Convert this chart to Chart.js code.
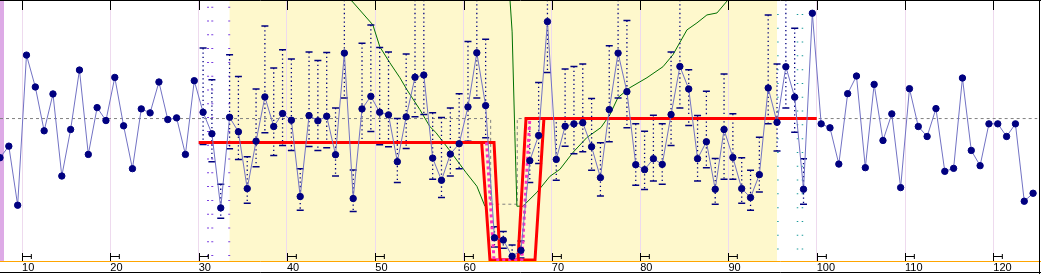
<!DOCTYPE html>
<html>
<head>
<meta charset="utf-8">
<title>Daily series</title>
<script src="https://cdn.jsdelivr.net/npm/chart.js@4.4.1/dist/chart.umd.min.js"></script>
<style>
    html, body { margin: 0; padding: 0; background: #fff; }
    #wrap { width: 1041px; height: 274px; position: relative; }
</style>
</head>
<body>
<div id="wrap"><canvas id="chart"></canvas></div>
<script>
// Daily values, first day = 7
const firstDay = 7;
const dailyValues = [
    103.7, 115.3, 56, 206.7, 174.7, 130.7, 167.7, 85.3, 132, 191.7,
    107, 154, 141, 184.3, 135.7, 92.7, 152.7, 148.7, 179.7, 142,
    143.7, 107, 181, 149.3, 127.7, 53.3, 144.3, 129.7, 72.7, 120.3,
    164.7, 135, 148, 141.3, 64.7, 146, 140.7, 145.3, 106.7, 208.7,
    62.7, 152.7, 165.3, 149.3, 146.7, 99.7, 144.7, 184.5, 186.7, 103.3,
    81, 107.3, 117.7, 154.7, 209, 156, 23.3, 21, 4.7, 10.7,
    100.7, 126, 240.3, 102, 135.3, 137.7, 138.8, 114.7, 83.7, 152,
    208.7, 170, 96.7, 91.7, 102.7, 97, 147, 195.3, 172.7, 102.7,
    119.7, 72, 132, 104, 72.7, 63.7, 86.7, 173.7, 139.2, 195,
    164.5, 72, 248.7, 137.7, 133.7, 97.3, 168, 185.7, 93.7, 177.3,
    121, 147.7, 73.7, 173, 135, 125, 153, 90, 93, 183.7,
    111, 95.7, 137.7, 137.7, 125, 137.7, 60, 68
];

// Range bars (days 30..98): upper and lower marks
const rangeFirstDay = 30;
const rangeHigh = [
    213.7, 182, 77, 207, 185.3, 104.7, 172.7, 236, 193.7, 212,
    202.7, 92.7, 209.7, 201.3, 209.3, 153.7, 275, 91.3, 218.7, 237,
    214.3, 209.7, 143, 207.7, 275, 275, 148.7, 144, 153.7, 168,
    220.3, 275, 222.7, 34.3, 29.7, 16, 20, 143.7, 179.3, 275,
    143.7, 192.7, 195.3, 197.7, 163, 118.7, 216, 275, 241.3, 137.7,
    130.3, 146.3, 137.7, 209.7, 275, 192, 146, 170.3, 103, 187.7,
    147.7, 103.7, 91, 124.3, 247, 197.7, 275, 233.7, 102.7
];
const rangeLow = [
    117, 99.7, 43, 112.7, 102, 58, 94.7, 128.7, 106, 116,
    111, 51, 115, 111, 113.7, 85.3, 163.7, 49.7, 119.3, 130,
    116.7, 114.7, 78.7, 113, 144.7, 147, 82, 63.7, 85.3, 92.7,
    120.3, 163.7, 123.7, 14, 12.7, 0, 3, 78.7, 98, 189.3,
    81, 115.3, 107.7, 109.7, 91, 65.3, 119.7, 163.7, 133.7, 76,
    71.7, 80.3, 77, 116, 153.7, 136, 80.3, 93.7, 57, 82,
    82, 58, 51, 69.3, 137.7, 110.3, 153.7, 129.3, 57
];

// Level lines
const levelX = [30, 62.05, 62.99, 66.16, 67.07, 100];
const levelY = [119, 119, 1, 1, 143, 143];
const levelOuterX = [62, 63.45, 64.13, 68.09, 69.1, 70];
const levelOuterY = [119, 119, 1, 1, 143, 143];
const levelPinkX = [62.6, 63.45, 66.6, 67.5];
const levelPinkY = [119, 1, 1, 143];
const meanX = [7.5, 63.07, 63.07, 66.08, 66.08, 125];
const meanY = [143, 143, 57, 57, 143, 143];

// Green curve (null = break)
const greenX = [46.5, 47.35, 49.73, 50.52, 51.65, 52.79, 53.58, 55.05, 56.18, 56.86, 58.34, 60.26, 61.51, 62.42,
    64, 65.2, 65.5, 65.8, 66.04, 66.72, 68.31, 69.78, 70.91, 72.39, 73.97, 75.56, 76.58, 77.48, 78.84,
    80.77, 82.58, 83.71, 85.30, 86.43, 87.56, 88.70, 89.94];
const greenY = [268, 261, 237, 215, 199, 184, 172, 152, 135, 129, 112, 89, 75, 55,
    null, 270, 230, 130, 55, 55, 69, 85, 92, 109, 124, 134, 147, 164, 174,
    184, 195, 207, 232, 239, 247, 249, 262];

// Phase marker columns and shaded period
const purpleCols = [31.06, 31.54, 33.46];
const tealCols = [95.6, 97.82, 98.38];
const bandStart = 33.5;
const bandEnd = 95.5;

const tickValues = [10, 20, 30, 40, 50, 60, 70, 80, 90, 100, 110, 120];

const colors = {
    band: '#FEF8CC',
    grid: '#EEDAEE',
    line: '#7272C4',
    dot: '#000080',
    red: '#FF0000',
    pink: '#FF30C0',
    green: '#007000',
    mean: '#808080',
    purple: '#7A3FE0',
    teal: '#1A9A9A',
    orange: '#FFA500'
};

const pairs = (xs, ys) => xs.map((x, i) => ({ x: x, y: ys[i] }));

const dailyPoints = dailyValues.map((v, i) => ({ x: firstDay + i + 0.5, y: v }));
const rangeLines = [];
const rangeCaps = [];
rangeHigh.forEach((hi, i) => {
    const x = rangeFirstDay + i + 0.5;
    rangeLines.push({ x: x, y: hi }, { x: x, y: rangeLow[i] }, { x: x, y: null });
    rangeCaps.push({ x: x, y: hi }, { x: x, y: rangeLow[i] });
});

function columnSet(xs, top, color, width) {
    return xs.map(c => ({
        data: [{ x: c, y: top }, { x: c, y: 0 }],
        borderColor: color,
        borderWidth: width,
        borderDash: [1, 12.8],
        pointRadius: 0,
        order: 9
    }));
}

// Background band, frame, tick marks and brackets
const decor = {
    id: 'decor',
    beforeDraw(chart) {
        const { ctx, chartArea: a, scales: { x } } = chart;
        ctx.save();
        const x0 = x.getPixelForValue(bandStart);
        const x1 = x.getPixelForValue(bandEnd);
        ctx.fillStyle = colors.band;
        ctx.fillRect(x0, a.top, x1 - x0, a.bottom - a.top);
        // left strip
        ctx.fillStyle = '#DDAAE6';
        ctx.fillRect(0, 0, 4, a.bottom);
        ctx.restore();
    },
    afterDraw(chart) {
        const { ctx, chartArea: a, scales: { x }, width, height } = chart;
        ctx.save();
        // orange baseline
        ctx.strokeStyle = colors.orange;
        ctx.lineWidth = 1;
        ctx.beginPath();
        ctx.moveTo(0, a.bottom + 0.5);
        ctx.lineTo(width, a.bottom + 0.5);
        ctx.stroke();
        // tick marks at top and brackets at bottom
        ctx.strokeStyle = '#000';
        const step = x.getPixelForValue(11) - x.getPixelForValue(10);
        tickValues.forEach(v => {
            const px = Math.round(x.getPixelForValue(v)) + 0.5;
            ctx.beginPath();
            ctx.moveTo(px, 0);
            ctx.lineTo(px, 10);
            ctx.moveTo(px, a.bottom - 8);
            ctx.lineTo(px, a.bottom);
            ctx.moveTo(px, a.bottom - 4.5);
            ctx.lineTo(px + step, a.bottom - 4.5);
            ctx.moveTo(px + step, a.bottom - 7);
            ctx.lineTo(px + step, a.bottom - 2);
            ctx.stroke();
        });
        // frame
        ctx.beginPath();
        ctx.moveTo(0, 0.5);
        ctx.lineTo(width, 0.5);
        ctx.moveTo(width - 1.5, 0);
        ctx.lineTo(width - 1.5, height);
        ctx.moveTo(0, height - 1.5);
        ctx.lineTo(width, height - 1.5);
        ctx.stroke();
        ctx.restore();
    }
};

const chart = new Chart(document.getElementById('chart'), {
    type: 'line',
    data: {
        datasets: [
            {
                data: dailyPoints,
                borderColor: colors.line,
                borderWidth: 1,
                pointRadius: 3.2,
                pointBackgroundColor: colors.dot,
                pointBorderColor: colors.dot,
                pointBorderWidth: 1,
                order: 0
            },
            {
                data: pairs(levelPinkX, levelPinkY),
                borderColor: colors.pink,
                borderWidth: 3,
                borderDash: [3, 3],
                pointRadius: 0,
                order: 1
            },
            {
                data: pairs(levelX, levelY),
                borderColor: colors.red,
                borderWidth: 3,
                pointRadius: 0,
                order: 2
            },
            {
                data: pairs(levelOuterX, levelOuterY),
                borderColor: colors.red,
                borderWidth: 3,
                pointRadius: 0,
                order: 3
            },
            {
                data: rangeCaps,
                showLine: false,
                pointStyle: 'line',
                pointRadius: 3.5,
                pointBorderWidth: 1.5,
                pointBorderColor: colors.dot,
                order: 4
            },
            {
                data: rangeLines,
                borderColor: colors.dot,
                borderWidth: 1.3,
                borderDash: [1.3, 3],
                pointRadius: 0,
                spanGaps: false,
                order: 5
            },
            {
                data: pairs(greenX, greenY),
                borderColor: colors.green,
                borderWidth: 1,
                pointRadius: 0,
                spanGaps: false,
                order: 6
            },
            {
                data: pairs(meanX, meanY),
                borderColor: colors.mean,
                borderWidth: 1,
                borderDash: [3, 3],
                pointRadius: 0,
                order: 7
            },
            ...columnSet(purpleCols, 255.3, colors.purple, 2),
            ...columnSet(tealCols, 248, colors.teal, 1.5)
        ]
    },
    options: {
        responsive: true,
        maintainAspectRatio: false,
        animation: false,
        layout: { autoPadding: false, padding: { left: 0, right: 3.5, top: 1, bottom: 0 } },
        plugins: {
            legend: { display: false },
            tooltip: { enabled: false }
        },
        scales: {
            x: {
                type: 'linear',
                min: 7.5,
                max: 125,
                afterBuildTicks: axis => {
                    axis.ticks = tickValues.map(v => ({ value: v }));
                },
                grid: { color: colors.grid, drawTicks: false, lineWidth: 1 },
                border: { display: false },
                ticks: {
                    align: 'start',
                    padding: 1,
                    maxRotation: 0,
                    autoSkip: false,
                    color: '#000',
                    font: { family: 'Liberation Sans', size: 11, lineHeight: 1 }
                }
            },
            y: { type: 'linear', min: 0, max: 261, display: false }
        }
    },
    plugins: [decor]
});
</script>
</body>
</html>
